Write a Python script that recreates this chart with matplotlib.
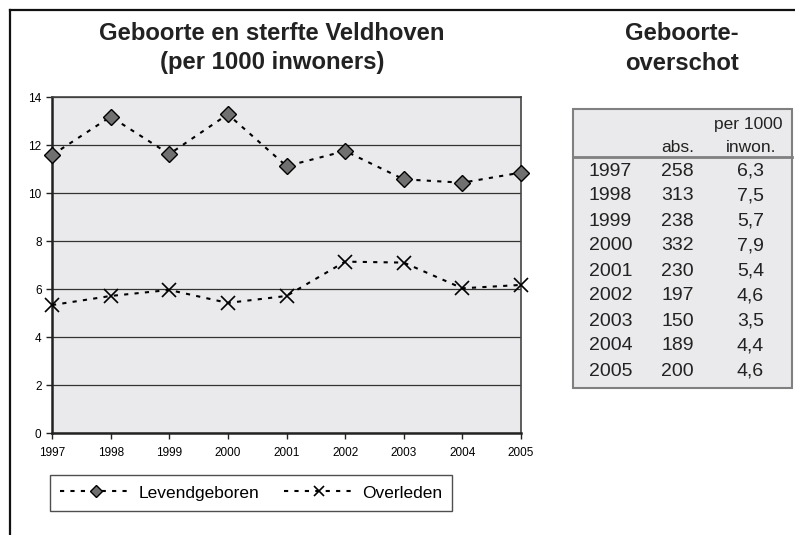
import matplotlib.pyplot as plt
from matplotlib.lines import Line2D
from matplotlib.patches import Rectangle

plt.rcParams['font.family'] = ['Liberation Sans', 'DejaVu Sans']

years = [1997, 1998, 1999, 2000, 2001, 2002, 2003, 2004, 2005]
levend = [11.58, 13.18, 11.62, 13.28, 11.12, 11.75, 10.57, 10.43, 10.85]
overleden = [5.33, 5.71, 5.96, 5.42, 5.71, 7.14, 7.10, 6.03, 6.17]

overschot_abs = [258, 313, 238, 332, 230, 197, 150, 189, 200]
overschot_rel = [6.3, 7.5, 5.7, 7.9, 5.4, 4.6, 3.5, 4.4, 4.6]

W, H = 795, 535
fig = plt.figure(figsize=(W / 100, H / 100), dpi=100)


def fx(px):
    return px / W


def fy(py):
    return 1 - py / H


# outer frame (top and left only)
fig.add_artist(Line2D([fx(10), 1], [fy(10), fy(10)], color='#111111', lw=1.6))
fig.add_artist(Line2D([fx(10), fx(10)], [fy(10), 0], color='#111111', lw=1.6))

ax = fig.add_axes([fx(52), fy(433), fx(521) - fx(52), fy(97) - fy(433)])
ax.set_facecolor('#eaeaec')
ax.set_xlim(1997, 2005)
ax.set_ylim(0, 14)
ax.set_yticks(range(0, 15, 2))
ax.set_xticks(years)
ax.tick_params(labelsize=8.5, direction='out', length=4, width=1, color='#222222')
ax.tick_params(axis='x', pad=6)
ax.grid(axis='y', color='#333333', lw=0.9)
ax.set_axisbelow(True)
for side in ['left', 'bottom']:
    ax.spines[side].set_linewidth(1.8)
    ax.spines[side].set_color('#222222')
for side in ['top', 'right']:
    ax.spines[side].set_linewidth(1.2)
    ax.spines[side].set_color('#444444')

ax.plot(years, levend, color='black', lw=1.5, dashes=(2, 3), marker='D',
        markersize=8.5, markerfacecolor='#707070', markeredgecolor='black',
        markeredgewidth=1.0, clip_on=False, label='Levendgeboren', zorder=3)
ax.plot(years, overleden, color='black', lw=1.5, dashes=(2, 3), marker='x',
        markersize=10, markeredgecolor='black', markeredgewidth=1.2,
        clip_on=False, label='Overleden', zorder=3)

leg = ax.legend(loc='upper left', bbox_to_anchor=(fx(50), fy(475)),
                bbox_transform=fig.transFigure, ncol=2, fontsize=12.5,
                frameon=True, fancybox=False, edgecolor='#222222',
                handlelength=4.1, handletextpad=0.4, columnspacing=1.4,
                borderpad=0.6, borderaxespad=0, markerscale=0.7)
leg.get_frame().set_linewidth(1.0)

title_kw = dict(ha='center', va='center', fontsize=17.2, fontweight='bold',
                color='#222222')
fig.text(fx(272), fy(34), 'Geboorte en sterfte Veldhoven', **title_kw)
fig.text(fx(272), fy(63), '(per 1000 inwoners)', **title_kw)
fig.text(fx(682), fy(34), 'Geboorte-', **title_kw)
fig.text(fx(682), fy(64), 'overschot', **title_kw)

# table
fig.add_artist(Rectangle((fx(573), fy(388)), fx(792) - fx(573), fy(109) - fy(388),
                         facecolor='#eaeaec', edgecolor='#808080', lw=1.5))
fig.add_artist(Line2D([fx(573), fx(792)], [fy(157), fy(157)], color='#808080', lw=2))
fig.text(fx(782), fy(124), 'per 1000', ha='right', va='center', fontsize=12.5, color='#222222')
fig.text(fx(776), fy(147), 'inwon.', ha='right', va='center', fontsize=12.5, color='#222222')
fig.text(fx(694), fy(147), 'abs.', ha='right', va='center', fontsize=12.5, color='#222222')
for i, yr in enumerate(years):
    yy = fy(171 + 25 * i)
    fig.text(fx(589), yy, str(yr), ha='left', va='center', fontsize=14, color='#222222')
    fig.text(fx(694), yy, str(overschot_abs[i]), ha='right', va='center',
             fontsize=14, color='#222222')
    fig.text(fx(764), yy, f'{overschot_rel[i]:.1f}'.replace('.', ','), ha='right',
             va='center', fontsize=14, color='#222222')

fig.savefig('out.png', dpi=100)
